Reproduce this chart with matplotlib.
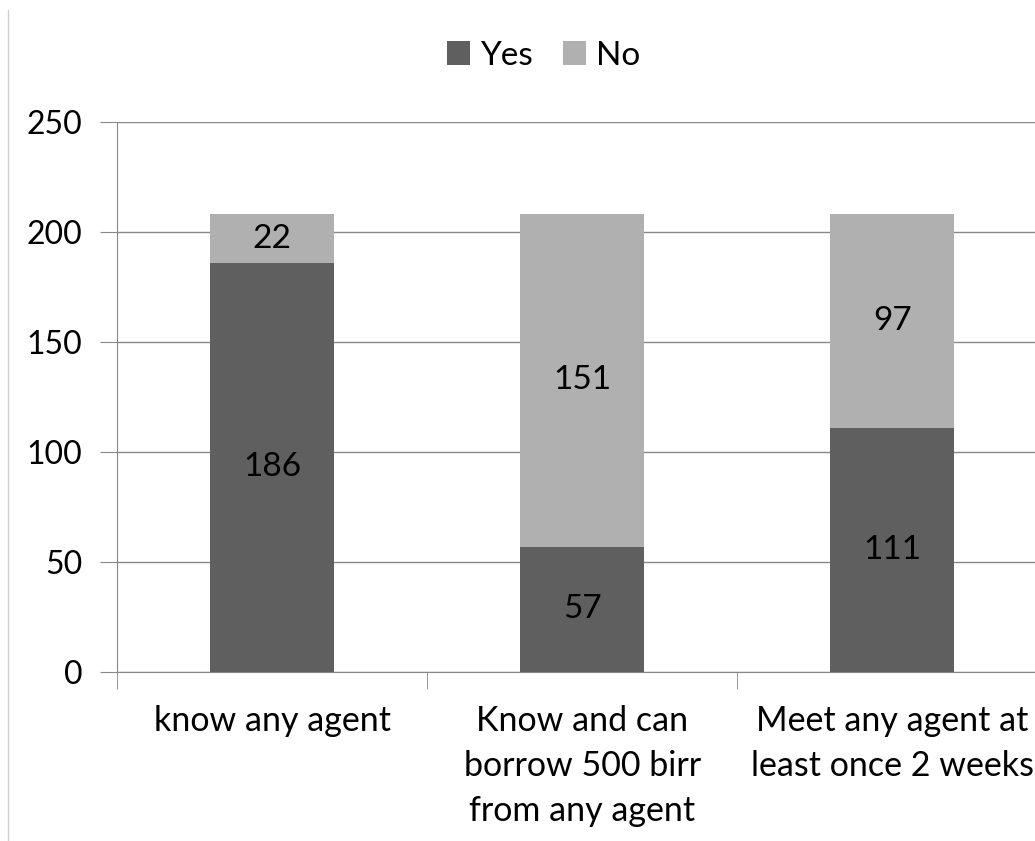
import matplotlib.pyplot as plt
from matplotlib.lines import Line2D

categories = ["know any agent",
              "Know and can\nborrow 500 birr\nfrom any agent",
              "Meet any agent at\nleast once 2 weeks"]
yes_vals = [186, 57, 111]
no_vals = [22, 151, 97]
yticks = [0, 50, 100, 150, 200, 250]

plt.rcParams['font.family'] = ['Lato', 'DejaVu Sans']

fig = plt.figure(figsize=(10.35, 8.41), dpi=100)
ax = fig.add_axes([0.113, 0.201, 0.899, 0.654])

x = list(range(len(categories)))
b1 = ax.bar(x, yes_vals, width=0.4, color="#5f5f5f", label="Yes", zorder=3)
b2 = ax.bar(x, no_vals, width=0.4, bottom=yes_vals, color="#b0b0b0", label="No", zorder=3)

for rects, vals in ((b1, yes_vals), (b2, no_vals)):
    for r, v in zip(rects, vals):
        ax.text(r.get_x() + r.get_width() / 2, r.get_y() + r.get_height() / 2,
                str(v), ha="center", va="center", fontsize=24, color="black", zorder=4)

ax.set_ylim(0, 250)
ax.set_xlim(-0.5, 2.5)
ax.set_yticks(yticks)
ax.yaxis.grid(True, color="#888888", linewidth=1, zorder=0)
ax.tick_params(axis="y", labelsize=23, length=12, color="#888888", pad=13)
ax.set_xticks(x)
ax.set_xticklabels(categories, fontsize=24.5, linespacing=1.5)
ax.tick_params(axis="x", length=0, pad=24)
# boundary ticks between categories
ax.set_xticks([-0.5, 0.5, 1.5, 2.5], minor=True)
ax.tick_params(axis="x", which="minor", length=12, color="#888888")

for s in ("top", "right"):
    ax.spines[s].set_visible(False)
for s in ("left", "bottom"):
    ax.spines[s].set_color("#888888")

fig.legend(handles=[b1, b2], labels=["Yes", "No"], loc="center", ncol=2,
           bbox_to_anchor=(0.525, 0.934), frameon=False, fontsize=24,
           handlelength=0.7, handleheight=0.7, handletextpad=0.3, columnspacing=0.9)

fig.add_artist(Line2D([0.008, 0.008], [0.0, 0.988], color="#d0d0d0", linewidth=1))

fig.savefig("out.png", dpi=100)
